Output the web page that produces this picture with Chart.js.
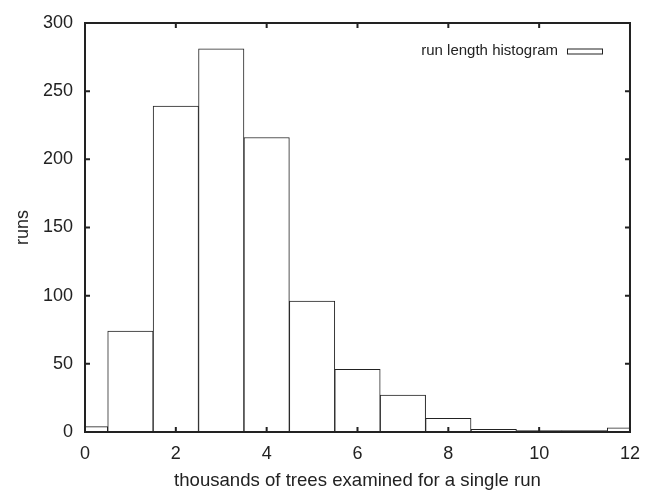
<!DOCTYPE html>
<html>
<head>
<meta charset="utf-8">
<title>run length histogram</title>
<script src="https://cdn.jsdelivr.net/npm/chart.js@4"></script>
<style>
  html, body { margin: 0; padding: 0; background: #fff; }
  #wrap { width: 651px; height: 490px; }
</style>
</head>
<body>
<div id="wrap"><canvas id="hist" width="651" height="490"></canvas></div>
<script>
/* ── Data ── */
const seriesLabel = 'run length histogram';
const binCenters = [0, 1, 2, 3, 4, 5, 6, 7, 8, 9, 10, 11, 12];
const runCounts  = [4, 74, 239, 281, 216, 96, 46, 27, 10, 2, 1, 1, 3];
const xTicks = [0, 2, 4, 6, 8, 10, 12];
const yTicks = [0, 50, 100, 150, 200, 250, 300];

const ink = '#222';
const font = 'Liberation Sans, Arial, sans-serif';

/* ── gnuplot style frame: border + inward ticks on all sides + key ── */
const framePlugin = {
  id: 'frame',
  afterDraw(chart) {
    const { ctx, chartArea: a, scales } = chart;
    const len = 5;
    ctx.save();
    ctx.strokeStyle = ink;
    ctx.lineWidth = 2;
    ctx.strokeRect(a.left, a.top, a.right - a.left, a.bottom - a.top);

    ctx.beginPath();
    xTicks.forEach(v => {
      const px = scales.x.getPixelForValue(v);
      ctx.moveTo(px, a.bottom); ctx.lineTo(px, a.bottom - len);
      ctx.moveTo(px, a.top);    ctx.lineTo(px, a.top + len);
    });
    yTicks.forEach(v => {
      const py = scales.y.getPixelForValue(v);
      ctx.moveTo(a.left, py);  ctx.lineTo(a.left + len, py);
      ctx.moveTo(a.right, py); ctx.lineTo(a.right - len, py);
    });
    ctx.stroke();

    // key: label then sample box, top-right inside the frame
    const ds = chart.data.datasets[0];
    const boxR = a.right - 28, boxW = 35, boxH = 5, ky = a.top + 28;
    ctx.font = '15px ' + font;
    ctx.fillStyle = ink;
    ctx.textAlign = 'right';
    ctx.textBaseline = 'middle';
    ctx.fillText(ds.label, boxR - boxW - 9, ky);
    ctx.lineWidth = 1;
    ctx.strokeStyle = ds.borderColor;
    ctx.strokeRect(boxR - boxW + 0.5, ky - boxH / 2 + 0.5, boxW, boxH);
    ctx.restore();
  }
};

new Chart(document.getElementById('hist'), {
  type: 'bar',
  data: {
    datasets: [{
      label: seriesLabel,
      data: binCenters.map((x, i) => ({ x, y: runCounts[i] })),
      backgroundColor: '#fff',
      borderColor: ink,
      borderWidth: 1,
      barPercentage: 1,
      categoryPercentage: 1,
      borderSkipped: false
    }]
  },
  options: {
    responsive: false,
    animation: false,
    events: [],
    layout: { padding: { top: 23, right: 21, left: 0, bottom: 0 } },
    plugins: { legend: { display: false }, tooltip: { enabled: false } },
    scales: {
      x: {
        type: 'linear',
        min: 0, max: 12,
        offset: false,
        afterBuildTicks: s => { s.ticks = xTicks.map(v => ({ value: v })); },
        afterFit: s => { s.height = 58; },
        grid: { display: false, drawTicks: false },
        border: { display: false },
        ticks: { color: ink, font: { family: font, size: 18 }, padding: 11, maxRotation: 0 },
        title: {
          display: true,
          text: 'thousands of trees examined for a single run',
          color: ink,
          font: { family: font, size: 18.6 },
          padding: { top: 0, bottom: -2 }
        }
      },
      y: {
        min: 0, max: 300,
        afterBuildTicks: s => { s.ticks = yTicks.map(v => ({ value: v })); },
        afterFit: s => { s.width = 85; },
        grid: { display: false, drawTicks: false },
        border: { display: false },
        ticks: { color: ink, font: { family: font, size: 18 }, padding: 12 },
        title: {
          display: true,
          text: 'runs',
          color: ink,
          font: { family: font, size: 18 },
          padding: { top: 12, bottom: 0 }
        }
      }
    }
  },
  plugins: [framePlugin]
});
</script>
</body>
</html>
